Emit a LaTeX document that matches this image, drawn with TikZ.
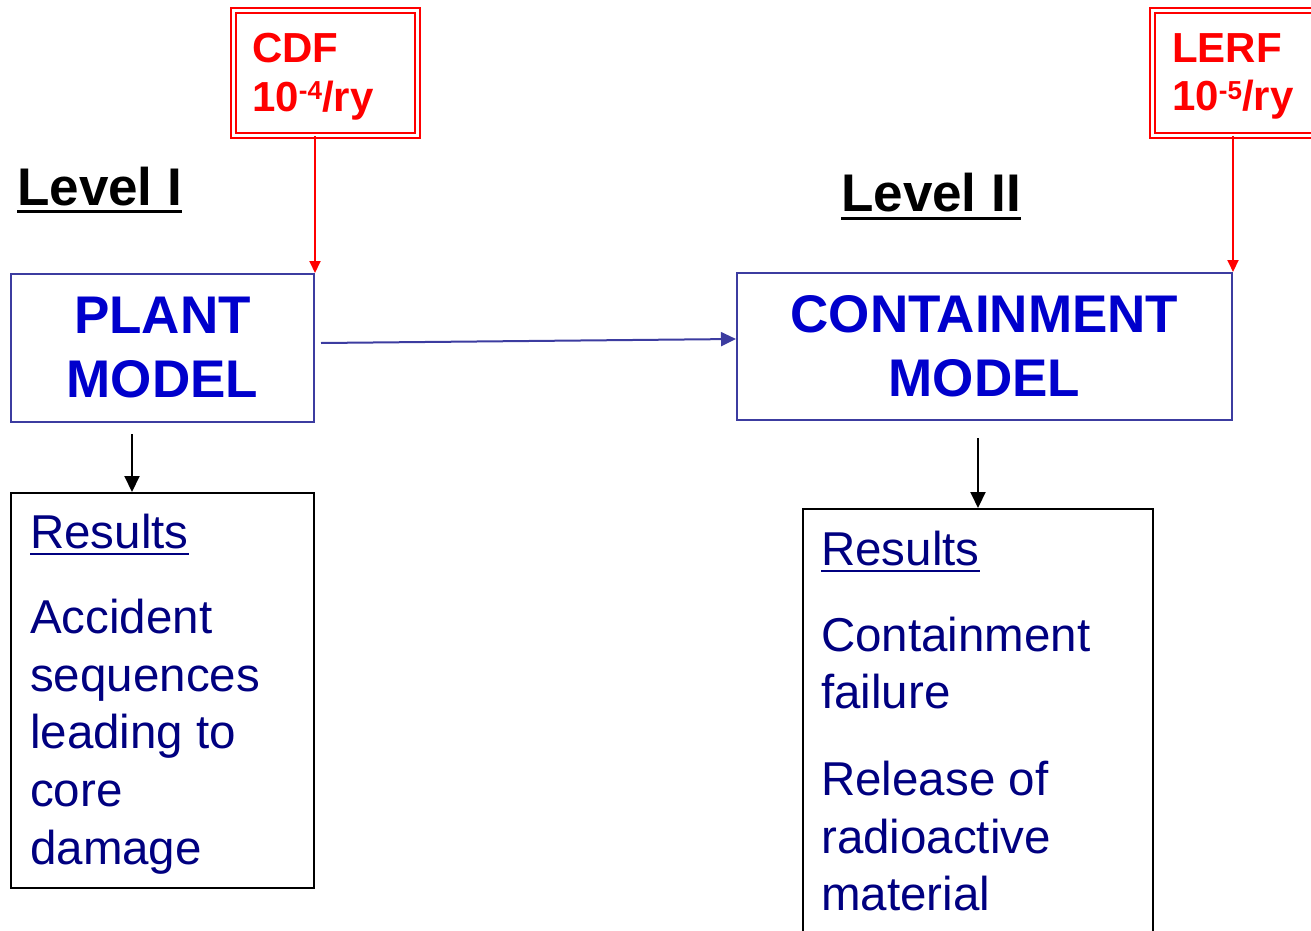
\documentclass[tikz,border=0pt]{standalone}
\usepackage{fontspec}
\setmainfont{Liberation Sans}
\usetikzlibrary{arrows.meta,calc}
\definecolor{boxblue}{RGB}{60,60,160}
\definecolor{txtblue}{RGB}{0,0,204}
\definecolor{navytxt}{RGB}{0,0,128}
\begin{document}
\begin{tikzpicture}[x=1pt,y=-1pt,
  ratebox/.style={draw=red, double=white, line width=2pt, double distance=3pt,
    minimum width=184pt, minimum height=125pt, inner sep=0pt},
  ratetxt/.style={anchor=base west, inner sep=0pt, text=red,
    font=\bfseries\fontsize{42}{48}\selectfont},
  modelbox/.style={draw=boxblue, line width=2pt, inner sep=0pt, align=center,
    text=txtblue, font=\bfseries\fontsize{53}{64}\selectfont},
  resbox/.style={draw=black, line width=2pt, inner sep=0pt},
  restxt/.style={anchor=base west, inner sep=0pt, text=navytxt,
    font=\fontsize{47.5}{57.6}\selectfont},
  lvltxt/.style={anchor=base west, inner sep=0pt, text=black,
    font=\bfseries\fontsize{53}{60}\selectfont},
  redarrow/.style={draw=red, line width=2pt, -{Triangle[length=12pt,width=11pt]}},
  bluearrow/.style={draw=boxblue, line width=2pt, -{Triangle[length=15pt,width=14pt]}},
  blackarrow/.style={draw=black, line width=2pt, -{Triangle[length=16pt,width=15pt]}}
]
\useasboundingbox (0,0) rectangle (1311,931);

% rate boxes
\node[ratebox] (cdf) at (325.5,73) {};
\node[ratetxt] (cdft1) at (252,63) {CDF};
\node[ratetxt] (cdft2) at (252,111.5) {10\raisebox{11.5pt}{\fontsize{26}{26}\selectfont -4}/ry};
\node[ratebox] (lerf) at (1244.5,73) {};
\node[ratetxt] (lerft1) at (1172,62.5) {LERF};
\node[ratetxt] (lerft2) at (1172,110.5) {10\raisebox{11.5pt}{\fontsize{26}{26}\selectfont -5}/ry};

% level labels
\node[lvltxt] (lvl1) at (17,205) {Level I};
\draw[line width=3pt] ($(lvl1.base west)+(0,6.5)$) -- ($(lvl1.base east)+(0,6.5)$);
\node[lvltxt] (lvl2) at (841,211) {Level II};
\draw[line width=3pt] ($(lvl2.base west)+(0,7)$) -- ($(lvl2.base east)+(0,7)$);

% model boxes
\node[modelbox, minimum width=303pt, minimum height=148pt] (plant) at (162.5,348) {PLANT\\MODEL};
\node[modelbox, minimum width=495pt, minimum height=147pt] (cont) at (984.5,346.5) {CONTAINMENT\\MODEL};

% results boxes
\node[resbox, minimum width=303pt, minimum height=395pt] (res1) at (162.5,690.5) {};
\node[resbox, minimum width=350pt, minimum height=451pt] (res2) at (978,734.5) {};

\node[restxt] (r1a) at (30,548.5) {Results};
\draw[navytxt, line width=2pt] ($(r1a.base west)+(0,5.5)$) -- ($(r1a.base east)+(0,5.5)$);
\node[restxt] (r1b) at (30,633.5) {Accident};
\node[restxt] (r1c) at (30,691) {sequences};
\node[restxt] (r1d) at (30,748.5) {leading to};
\node[restxt] (r1e) at (30,806.5) {core};
\node[restxt] (r1f) at (30,864) {damage};

\node[restxt] (r2a) at (821,565) {Results};
\draw[navytxt, line width=2pt] ($(r2a.base west)+(0,6)$) -- ($(r2a.base east)+(0,6)$);
\node[restxt] (r2b) at (821,651) {Containment};
\node[restxt] (r2c) at (821,708.5) {failure};
\node[restxt] (r2d) at (821,795.5) {Release of};
\node[restxt] (r2e) at (821,853) {radioactive};
\node[restxt] (r2f) at (821,910.5) {material};

% connectors
\draw[redarrow] (cdf.south -| plant.north east) -- (plant.north east);
\draw[redarrow] (lerf.south -| cont.north east) -- (cont.north east);
\draw[bluearrow] ([xshift=6pt,yshift=5pt]plant.east) -- ([yshift=7.5pt]cont.west);
\draw[blackarrow] ($(plant.south west)+(122,11)$) -- ($(res1.north west)+(122,0)$);
\draw[blackarrow] ($(cont.south west)+(242,17)$) -- ($(res2.north west)+(176,0)$);
\end{tikzpicture}
\end{document}
